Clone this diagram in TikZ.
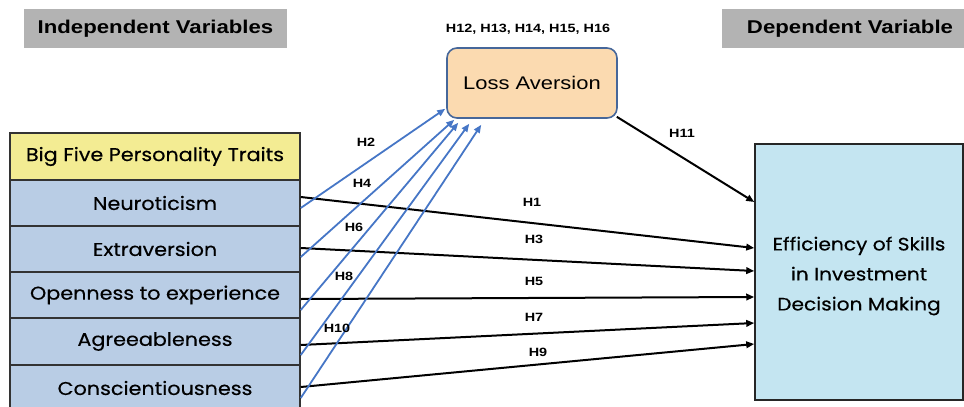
\documentclass[tikz,border=0pt]{standalone}
\usepackage{fontspec}
\setmainfont{Liberation Sans}[FakeStretch=1.2]
\newfontfamily\gothic{Poppins}[FakeStretch=1.12,FakeBold=0.4]
\usetikzlibrary{arrows.meta}
\definecolor{hdrgray}{HTML}{B3B3B3}
\definecolor{bfyellow}{HTML}{F3EC93}
\definecolor{traitblue}{HTML}{B9CDE5}
\definecolor{lossfill}{HTML}{FBDAB0}
\definecolor{lossborder}{HTML}{46679A}
\definecolor{efffill}{HTML}{C4E5F1}
\definecolor{arrowblue}{HTML}{4676C6}
\begin{document}
\begin{tikzpicture}[x=1pt,y=-1pt,
  hdr/.style={fill=hdrgray, draw=none, font=\fontsize{18.5}{20}\selectfont\bfseries, minimum height=39pt, inner sep=0pt},
  trait/.style={draw=black!80, line width=1.5pt, fill=traitblue, minimum width=290pt, minimum height=46pt, inner sep=0pt, font=\gothic\fontsize{18.5}{20}\selectfont},
  hlab/.style={font=\fontsize{12}{14}\selectfont\bfseries, inner sep=0pt},
  blk/.style={line width=2pt, black, -{Triangle[length=8pt,width=6.5pt]}},
  blu/.style={line width=1.8pt, arrowblue, -{Triangle[length=8pt,width=6.5pt]}}]
\useasboundingbox (0,0) rectangle (964,407);
% headers
\node[hdr, minimum width=263pt] (iv) at (155.5,28.5) {Independent Variables};
\node[hdr, minimum width=256pt] (dv) at (850,28.5) {Dependent Variable};
% traits
\node[trait, fill=bfyellow, minimum height=47pt] (bf) at (155,156.5) {Big Five Personality Traits};
\node[trait] (neu) at (155,203) {Neuroticism};
\node[trait] (ext) at (155,249) {Extraversion};
\node[trait] (ope) at (155,295) {Openness to experience};
\node[trait] (agr) at (155,341.5) {Agreeableness};
\node[trait] (con) at (155,388) {Conscientiousness};
% loss aversion
\node[draw=lossborder, line width=1.6pt, fill=lossfill, rounded corners=10pt, minimum width=170pt, minimum height=70pt, font=\fontsize{18.3}{20}\selectfont] (loss) at (532,83) {Loss Aversion};
\node[hlab] (lh) at (528,29) {H12, H13, H14, H15, H16};
% efficiency
\node[draw=black!85, line width=1.5pt, fill=efffill, minimum width=208pt, minimum height=256pt] (eff) at (859,272) {};
\node[align=center, font=\gothic\fontsize{18}{30}\selectfont, inner sep=0pt] (efftext) at ([yshift=-4pt]eff.center) {Efficiency of Skills\\in Investment\\Decision Making};
% black arrows
\draw[blk] ([yshift=6pt]neu.east) -- ([yshift=24pt]eff.west);
\draw[blk] ([yshift=1pt]ext.east) -- ([yshift=1pt]eff.west);
\draw[blk] ([yshift=-4pt]ope.east) -- ([yshift=-25pt]eff.west);
\draw[blk] ([yshift=-3.5pt]agr.east) -- ([yshift=-51pt]eff.west);
\draw[blk] ([yshift=1pt]con.east) -- ([yshift=-72pt]eff.west);
\draw[blk] ([xshift=-1pt,yshift=2pt]loss.south east) -- ([yshift=70pt]eff.west);
% blue arrows
\draw[blu] ([yshift=-5pt]neu.east) -- ([xshift=-1pt,yshift=10pt]loss.south west);
\draw[blu] ([yshift=-8pt]ext.east) -- ([xshift=8pt,yshift=-1pt]loss.south west);
\draw[blu] ([yshift=-15pt]ope.east) -- ([xshift=12pt,yshift=-4pt]loss.south west);
\draw[blu] ([yshift=-13.5pt]agr.east) -- ([xshift=23pt,yshift=-5pt]loss.south west);
\draw[blu] ([yshift=-10pt]con.east) -- ([xshift=35pt,yshift=-6pt]loss.south west);
% labels
\node[hlab] (h2) at (366,142) {H2};
\node[hlab] (h4) at (362,183) {H4};
\node[hlab] (h6) at (354,227) {H6};
\node[hlab] (h8) at (344,276) {H8};
\node[hlab] (h10) at (337,328) {H10};
\node[hlab] (h1) at (532,202) {H1};
\node[hlab] (h3) at (534,239) {H3};
\node[hlab] (h5) at (534,281) {H5};
\node[hlab] (h7) at (534,317) {H7};
\node[hlab] (h9) at (538,352) {H9};
\node[hlab] (h11) at (682,133) {H11};
\end{tikzpicture}
\end{document}
